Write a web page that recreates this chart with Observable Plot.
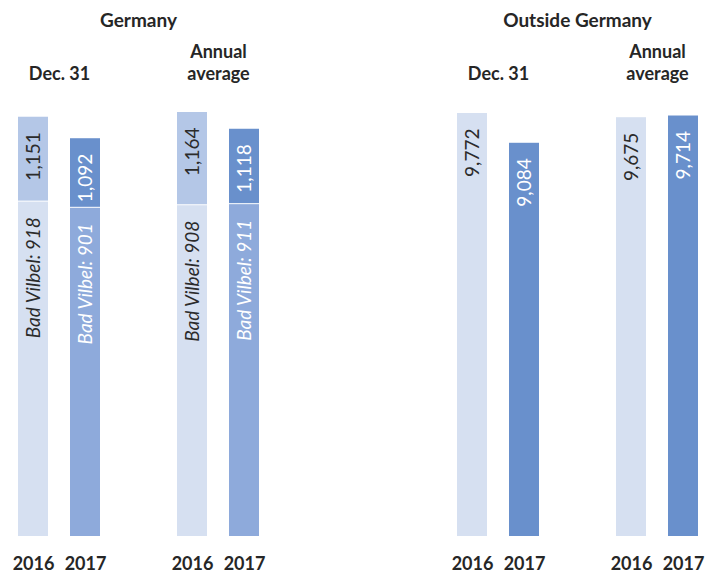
<!DOCTYPE html>
<html>
<head>
<meta charset="utf-8">
<script src="https://cdn.jsdelivr.net/npm/d3@7"></script>
<script src="https://cdn.jsdelivr.net/npm/@observablehq/plot@0.6"></script>
<style>
  body { margin: 0; background: #fff; font-family: Lato, sans-serif; }
  #chart { position: relative; width: 706px; height: 573px; overflow: hidden; }
  .panel { position: absolute; top: 0; }
  .title { position: absolute; top: 8px; width: 240px; text-align: center; font-weight: bold;
           font-size: 19px; color: #262626; white-space: nowrap; font-family: Lato, sans-serif; }
</style>
</head>
<body>
<div id="chart"></div>
<script>
// ---- data ----
const panelTitles = ["Germany", "Outside Germany"];
const periods = ["Dec. 31", "Annual average"];
const periodLabels = ["Dec. 31", "Annual\naverage"];
const years = [2016, 2017];
// order: Dec.31 2016, Dec.31 2017, Annual avg 2016, Annual avg 2017
const germanyTotal = [1151, 1092, 1164, 1118];
const germanyBadVilbel = [918, 901, 908, 911];
const outsideTotal = [9772, 9084, 9675, 9714];

// ---- styles ----
const colors = {
  2016: {top: "#b4c7e7", bottom: "#d6e0f1", text: "#2b2b2b"},
  2017: {top: "#6990cc", bottom: "#8eaadb", text: "#ffffff"}
};
const fmt = d3.format(",");

function rowsFor(totals, bv) {
  return totals.map((t, i) => ({
    period: periods[Math.floor(i / 2)],
    year: years[i % 2],
    total: t,
    bv: bv ? bv[i] : null
  }));
}
const headerRows = periods.map((p, i) => ({period: p, label: periodLabels[i]}));

function panel(rows, {width, marginLeft, marginRight, marginTop, hasBV}) {
  const marks = [];
  if (hasBV) {
    marks.push(
      Plot.barY(rows, {fx: "period", x: "year", y1: 0, y2: "bv", fill: d => colors[d.year].bottom}),
      Plot.barY(rows, {fx: "period", x: "year", y1: "bv", y2: "total", fill: d => colors[d.year].top, insetBottom: 1}),
      Plot.text(rows, {fx: "period", x: "year", y: "bv", text: d => `Bad Vilbel: ${d.bv}`, rotate: -90,
        textAnchor: "end", dy: 15, fontStyle: "italic", fontSize: 19, fill: d => colors[d.year].text})
    );
  } else {
    marks.push(
      Plot.barY(rows, {fx: "period", x: "year", y1: 0, y2: "total",
        fill: d => d.year === 2016 ? colors[2016].bottom : colors[2017].top})
    );
  }
  marks.push(
    Plot.text(rows, {fx: "period", x: "year", y: "total", text: d => fmt(d.total), rotate: -90,
      textAnchor: "end", dy: 15, fontSize: 19, fill: d => colors[d.year].text}),
    Plot.text(rows, {fx: "period", x: "year", frameAnchor: "bottom", lineAnchor: "top", dy: 21,
      text: d => String(d.year), fontSize: 18, fontWeight: "bold", fill: "#262626"}),
    Plot.text(headerRows, {fx: "period", frameAnchor: "top", lineAnchor: "bottom", dy: -(marginTop - 79),
      text: "label", fontSize: 18, fontWeight: "bold", lineHeight: 1.17, fill: "#262626"})
  );
  const yMax = d3.max(rows, d => d.total);
  return Plot.plot({
    width, height: 573,
    marginTop, marginBottom: 37, marginLeft, marginRight,
    style: {fontFamily: "Lato, sans-serif", overflow: "visible", background: "transparent"},
    fx: {domain: periods, paddingInner: 0.472, paddingOuter: 0, axis: null, label: null},
    x: {domain: years, paddingInner: 0.415, paddingOuter: 0, axis: null, label: null},
    y: {domain: [0, yMax], axis: null},
    marks
  });
}

const chart = document.getElementById("chart");
const specs = [
  {rows: rowsFor(germanyTotal, germanyBadVilbel), left: 0, width: 360, marginLeft: 17, marginRight: 100, marginTop: 112, hasBV: true, center: 138.5},
  {rows: rowsFor(outsideTotal, null), left: 360, width: 346, marginLeft: 96, marginRight: 7, marginTop: 113, hasBV: false, center: 577.5}
];
specs.forEach((s, i) => {
  const wrap = document.createElement("div");
  wrap.className = "panel";
  wrap.style.left = s.left + "px";
  wrap.appendChild(panel(s.rows, s));
  chart.appendChild(wrap);
  const t = document.createElement("div");
  t.className = "title";
  t.style.left = (s.center - 120) + "px";
  t.textContent = panelTitles[i];
  chart.appendChild(t);
});
</script>
</body>
</html>
